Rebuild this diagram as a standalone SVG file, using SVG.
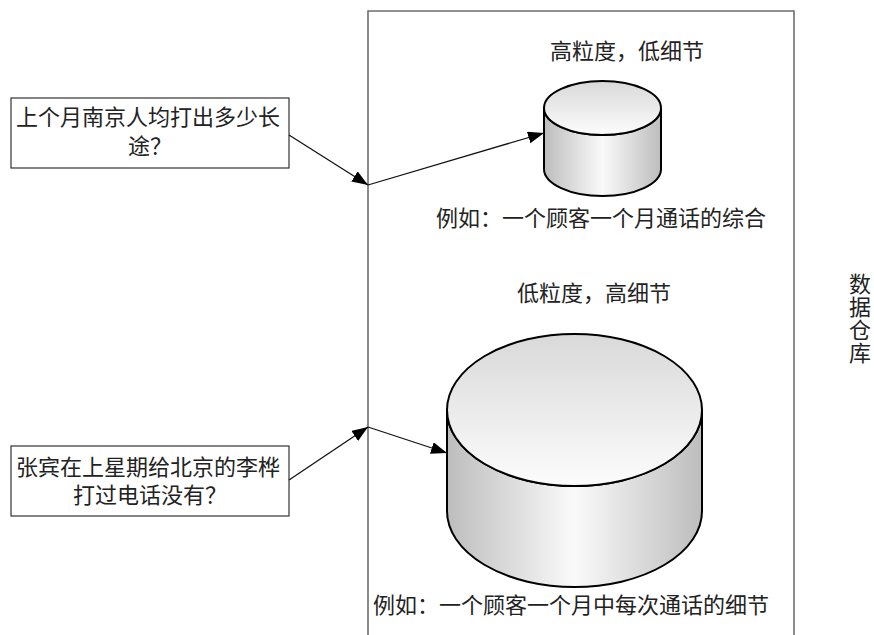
<svg xmlns="http://www.w3.org/2000/svg" width="874" height="635" viewBox="0 0 874 635">
<defs>
<style>
text{font-family:"Liberation Serif","Noto Sans CJK SC",sans-serif;font-size:22px;fill:#222}
.box{fill:#fff;stroke:#333;stroke-width:1.2}
.frame{fill:none;stroke:#6e6e6e;stroke-width:1.6}
.conn{fill:none;stroke:#111;stroke-width:1.3}
.cyl{stroke:#000;stroke-width:2}
</style>
<marker id="ah" markerUnits="userSpaceOnUse" markerWidth="18" markerHeight="14" refX="16" refY="6" orient="auto">
<path d="M0,0 L16,6 L0,12 Z" fill="#000"/>
</marker>
<linearGradient id="side" x1="0" y1="0" x2="1" y2="0">
<stop offset="0" stop-color="#bdbdbd"/>
<stop offset="0.5" stop-color="#fafafa"/>
<stop offset="1" stop-color="#bdbdbd"/>
</linearGradient>
<linearGradient id="top" x1="0" y1="0" x2="0" y2="1">
<stop offset="0" stop-color="#d9d9d9"/>
<stop offset="1" stop-color="#fcfcfc"/>
</linearGradient>
</defs>
<rect width="874" height="635" fill="#fff"/>
<g id="warehouse">
<path class="frame" d="M368,640 V11 H794 V640"/>
<text x="860" y="292" text-anchor="middle">数</text>
<text x="860" y="315" text-anchor="middle">据</text>
<text x="860" y="338" text-anchor="middle">仓</text>
<text x="860" y="361" text-anchor="middle">库</text>
</g>
<g id="q1">
<rect class="box" x="11" y="98" width="278" height="70"/>
<text x="16" y="125">上个月南京人均打出多少长</text>
<text x="150" y="154" text-anchor="middle">途？</text>
</g>
<g id="q2">
<rect class="box" x="11" y="446" width="278" height="70"/>
<text x="16" y="475">张宾在上星期给北京的李桦</text>
<text x="150" y="503" text-anchor="middle">打过电话没有？</text>
</g>
<g id="summary">
<text x="550" y="59">高粒度，低细节</text>
<path class="cyl" fill="url(#side)" d="M544,108 V169 A58.5,27 0 0 0 661,169 V108 A58.5,27 0 0 1 544,108 Z"/>
<ellipse class="cyl" fill="url(#top)" cx="602.5" cy="108" rx="58.5" ry="27" stroke-width="1.5"/>
<text x="436" y="226">例如：一个顾客一个月通话的综合</text>
</g>
<g id="detail">
<text x="517" y="301">低粒度，高细节</text>
<path class="cyl" fill="url(#side)" d="M447,410 V511 A127.5,76 0 0 0 702,511 V410 A127.5,76 0 0 1 447,410 Z"/>
<ellipse class="cyl" fill="url(#top)" cx="574.5" cy="410" rx="127.5" ry="76" stroke-width="1.5"/>
<text x="373" y="613">例如：一个顾客一个月中每次通话的细节</text>
</g>
<g id="connectors">
<line class="conn" x1="289" y1="135" x2="368" y2="185" marker-end="url(#ah)"/>
<line class="conn" x1="368" y1="185" x2="544" y2="133" marker-end="url(#ah)"/>
<line class="conn" x1="289" y1="480" x2="368" y2="427" marker-end="url(#ah)"/>
<line class="conn" x1="368" y1="427" x2="447" y2="453" marker-end="url(#ah)"/>
</g>
</svg>
